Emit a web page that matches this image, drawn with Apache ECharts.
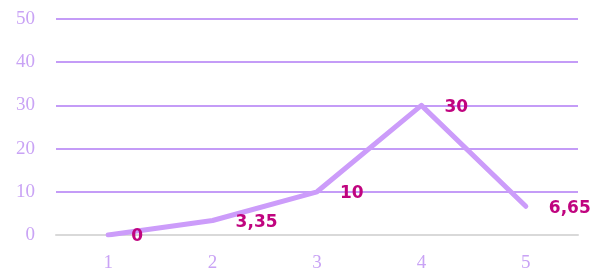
<!DOCTYPE html>
<html lang="en">
<head>
    <meta charset="UTF-8">
    <title>Chart</title>
    <script src="https://cdn.jsdelivr.net/npm/echarts@6/dist/echarts.min.js"></script>
    <style>
        body { margin: 0; background: #fff; }
    </style>
</head>
<body>
    <div id="chart" style="width: 595px;height: 276px;"></div>
    <script>
        // data
        let categories = ['1', '2', '3', '4', '5'];
        let values = [0, 3.35, 10, 30, 6.65];
        let yTicks = { min: 0, max: 50, interval: 10 };

        let myChart = echarts.init(document.getElementById('chart'));

        let option = {
            animation: false,
            grid: { left: 56, right: 17, top: 19, bottom: 41 },
            xAxis: {
                type: 'category',
                data: categories,
                boundaryGap: true,
                axisLine: { lineStyle: { color: '#d9d9d9', width: 2 } },
                axisTick: { show: false },
                axisLabel: {
                    color: '#c9a3f5',
                    fontFamily: 'Liberation Serif',
                    fontSize: 19,
                    margin: 19
                }
            },
            yAxis: {
                type: 'value',
                min: yTicks.min,
                max: yTicks.max,
                interval: yTicks.interval,
                axisLine: { show: false },
                axisTick: { show: false },
                splitLine: { lineStyle: { color: '#c49cf7', width: 2 } },
                axisLabel: {
                    color: '#c9a3f5',
                    fontFamily: 'Liberation Serif',
                    fontSize: 19,
                    margin: 21
                }
            },
            series: [{
                type: 'line',
                data: values,
                symbol: 'circle',
                symbolSize: 2,
                showAllSymbol: true,
                itemStyle: { color: 'rgba(0,0,0,0)', borderWidth: 0 },
                lineStyle: { color: '#cc9cfa', width: 5, cap: 'round', join: 'round' },
                label: {
                    show: true,
                    position: 'right',
                    distance: 22,
                    offset: [0, 2],
                    color: '#c0047f',
                    fontFamily: 'DejaVu Sans',
                    fontWeight: 'bold',
                    fontSize: 17,
                    formatter: function (p) {
                        return String(p.value).replace('.', ',');
                    }
                }
            }]
        };
        myChart.setOption(option);
    </script>
</body>
</html>
